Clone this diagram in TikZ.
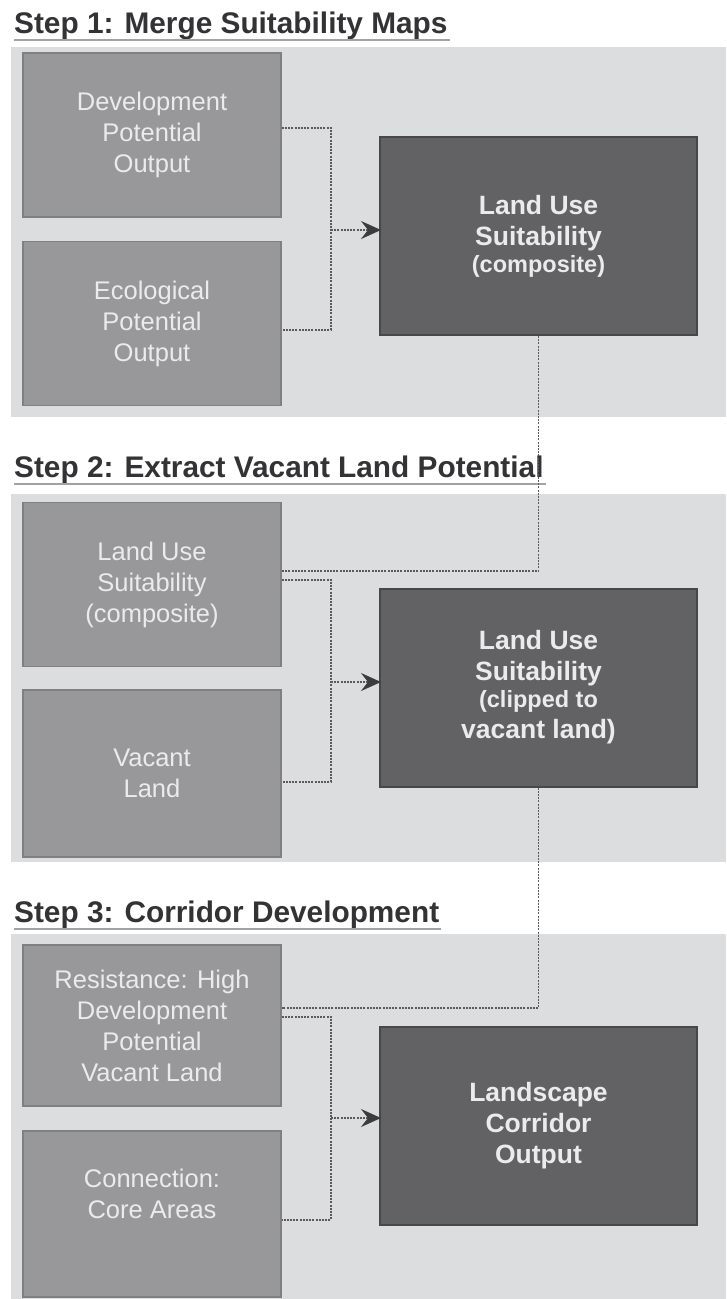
\documentclass[tikz,border=0pt]{standalone}
\usepackage{fontspec}
\setmainfont{Liberation Sans}
\usetikzlibrary{arrows.meta}
\definecolor{panelgray}{HTML}{DCDDDF}
\definecolor{ingray}{HTML}{98989B}
\definecolor{inedge}{HTML}{808083}
\definecolor{outgray}{HTML}{626265}
\definecolor{outedge}{HTML}{48484A}
\definecolor{boxtext}{HTML}{EBEBEC}
\definecolor{headgray}{HTML}{333335}
\definecolor{rulegray}{HTML}{A2A2A4}
\definecolor{linkgray}{HTML}{5A5A5C}
\definecolor{tipgray}{HTML}{3C3C3E}
\newcommand{\notefont}{\fontsize{23.5}{27}\selectfont}

\begin{document}
\begin{tikzpicture}[x=1pt,y=-1pt,
  panel/.style={fill=panelgray},
  inbox/.style={draw=inedge,fill=ingray,line width=1.5pt,minimum width=258pt,minimum height=164pt,inner sep=0pt,align=center,text=boxtext,font=\fontsize{25.5}{31}\selectfont},
  outbox/.style={draw=outedge,fill=outgray,line width=2pt,minimum width=317pt,minimum height=198pt,inner sep=0pt,align=center,text=boxtext,font=\fontsize{26.5}{31}\selectfont\bfseries},
  stephead/.style={anchor=base west,inner sep=0pt,text=headgray,font=\fontsize{29.8}{34}\selectfont\bfseries},
  headrule/.style={draw=rulegray,line width=1.5pt},
  link/.style={draw=linkgray,line width=1.8pt,dash pattern=on 2pt off 1.2pt}]
\useasboundingbox (0,0) rectangle (726,1299);
\fill[white] (0,0) rectangle (726,1299);

\fill[panel] (11,47) rectangle (726,417);
\fill[panel] (11,494) rectangle (726,862);
\fill[panel] (11,934) rectangle (726,1299);

\node[stephead] (head1) at (14,33) {Step 1: Merge Suitability Maps};
\node[stephead] (head2) at (14,477) {Step 2: Extract Vacant Land Potential};
\node[stephead] (head3) at (14,922) {Step 3: Corridor Development};
\foreach \h in {head1,head2,head3}
  \draw[headrule] ([yshift=-7pt]\h.base west) -- ([yshift=-7pt,xshift=2pt]\h.base east);

\node[inbox] (devpot) at (152,135) {Development\\Potential\\Output};
\node[inbox] (ecopot) at (152,323.5) {Ecological\\Potential\\Output};
\node[outbox] (lusc) at (538.5,236) {Land Use\\Suitability\\[-4pt]\notefont (composite)};

\node[inbox] (lusctwo) at (152,584.5) {Land Use\\Suitability\\(composite)};
\node[inbox,minimum height=167pt] (vacant) at (152,773.5) {Vacant\\Land};
\node[outbox] (luscv) at (538.5,687.5) {Land Use\\Suitability\\[-4pt]\notefont (clipped to\\vacant land)};

\node[inbox,minimum height=161pt] (resist) at (152,1025.5) {Resistance: High\\Development\\Potential\\Vacant Land};
\node[inbox,minimum height=166pt] (coreareas) at (152,1214) {Connection:\\Core Areas\\ \strut};
\node[outbox] (corridor) at (538.5,1126) {Landscape\\Corridor\\Output};

\coordinate (j1) at (331,230);
\coordinate (j2) at (331,682);
\coordinate (j3) at (331,1118);

\draw[link] ([yshift=7pt]devpot.east) -| (j1) |- ([yshift=-6.5pt]ecopot.east);
\draw[link,-{Stealth[length=20pt,width=18pt,inset=7pt,color=tipgray]}] (j1) -- ([xshift=2pt]j1 -| lusc.west);
\draw[link] (lusc.south) |- ([yshift=13.5pt]lusctwo.east);

\draw[link] ([yshift=4.5pt]lusctwo.east) -| (j2) |- ([yshift=-8.5pt]vacant.east);
\draw[link,-{Stealth[length=20pt,width=18pt,inset=7pt,color=tipgray]}] (j2) -- ([xshift=2pt]j2 -| luscv.west);
\draw[link] (luscv.south) |- ([yshift=17.5pt]resist.east);

\draw[link] ([yshift=8.5pt]resist.east) -| (j3) |- ([yshift=-6pt]coreareas.east);
\draw[link,-{Stealth[length=20pt,width=18pt,inset=7pt,color=tipgray]}] (j3) -- ([xshift=2pt]j3 -| corridor.west);
\end{tikzpicture}
\end{document}
